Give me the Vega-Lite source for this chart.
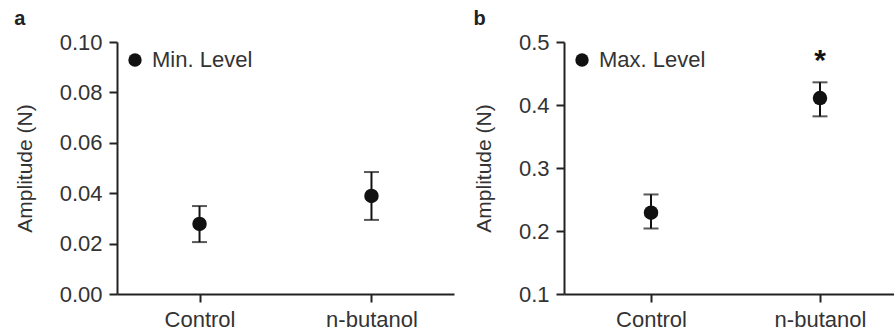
{
  "$schema": "https://vega.github.io/schema/vega-lite/v6.json",
  "padding": {"left": 14, "top": 9, "right": 0, "bottom": 0},
  "background": "white",
  "datasets": {
    "a": [
      {"group": "Control", "mean": 0.0278, "lo": 0.0206, "hi": 0.0349, "series": "Min. Level"},
      {"group": "n-butanol", "mean": 0.0389, "lo": 0.0294, "hi": 0.0484, "series": "Min. Level"}
    ],
    "b": [
      {"group": "Control", "mean": 0.229, "lo": 0.204, "hi": 0.258, "series": "Max. Level", "mark": ""},
      {"group": "n-butanol", "mean": 0.411, "lo": 0.382, "hi": 0.436, "series": "Max. Level", "mark": "*", "star": 0.479}
    ]
  },
  "hconcat": [
    {
      "width": 337,
      "height": 252,
      "title": {"text": "a", "anchor": "start", "frame": "bounds", "fontSize": 20, "fontWeight": "bold", "font": "Liberation Sans", "color": "#222", "offset": 2},
      "data": {"name": "a"},
      "layer": [
        {
          "mark": {"type": "errorbar", "ticks": {"size": 15, "thickness": 2, "color": "#111"}, "rule": {"strokeWidth": 2, "color": "#111"}},
          "encoding": {
            "x": {"field": "group", "type": "nominal", "scale": {"type": "point", "padding": 0.48}, "axis": {"title": null, "labelAngle": 0}},
            "y": {"field": "lo", "type": "quantitative", "scale": {"domain": [0, 0.1]}, "axis": {"title": "Amplitude (N)", "values": [0, 0.02, 0.04, 0.06, 0.08, 0.1], "format": ".2f"}},
            "y2": {"field": "hi"}
          }
        },
        {
          "mark": {"type": "point", "filled": true, "shape": "circle", "size": 210, "opacity": 1},
          "encoding": {
            "x": {"field": "group", "type": "nominal"},
            "y": {"field": "mean", "type": "quantitative"},
            "color": {"field": "series", "type": "nominal", "scale": {"range": ["#111"]}, "legend": {"title": null, "orient": "top-left", "offset": 7, "padding": 0}}
          }
        }
      ]
    },
    {
      "width": 343,
      "height": 252,
      "title": {"text": "b", "anchor": "start", "frame": "bounds", "fontSize": 20, "fontWeight": "bold", "font": "Liberation Sans", "color": "#222", "offset": 2},
      "data": {"name": "b"},
      "layer": [
        {
          "mark": {"type": "errorbar", "ticks": {"size": 15, "thickness": 2, "color": "#111"}, "rule": {"strokeWidth": 2, "color": "#111"}},
          "encoding": {
            "x": {"field": "group", "type": "nominal", "scale": {"type": "point", "padding": 0.515}, "axis": {"title": null, "labelAngle": 0}},
            "y": {"field": "lo", "type": "quantitative", "scale": {"domain": [0.1, 0.5]}, "axis": {"title": "Amplitude (N)", "values": [0.1, 0.2, 0.3, 0.4, 0.5], "format": ".1f"}},
            "y2": {"field": "hi"}
          }
        },
        {
          "mark": {"type": "point", "filled": true, "shape": "circle", "size": 210, "opacity": 1},
          "encoding": {
            "x": {"field": "group", "type": "nominal"},
            "y": {"field": "mean", "type": "quantitative"},
            "color": {"field": "series", "type": "nominal", "scale": {"range": ["#111"]}, "legend": {"title": null, "orient": "top-left", "offset": 7, "padding": 0}}
          }
        },
        {
          "mark": {"type": "text", "fontSize": 30, "fontWeight": "bold", "font": "Liberation Sans", "color": "#111", "baseline": "middle", "dy": 6},
          "encoding": {
            "x": {"field": "group", "type": "nominal"},
            "y": {"field": "star", "type": "quantitative"},
            "text": {"field": "mark"}
          }
        }
      ],
      "resolve": {"scale": {"color": "independent"}}
    }
  ],
  "resolve": {"scale": {"y": "independent", "x": "independent", "color": "independent"}, "legend": {"color": "independent"}},
  "spacing": 19,
  "config": {
    "view": {"stroke": null},
    "axis": {
      "grid": false,
      "domainColor": "#222",
      "domainWidth": 2,
      "tickColor": "#222",
      "tickWidth": 2,
      "tickSize": 8,
      "labelFont": "Liberation Sans",
      "labelFontSize": 22,
      "labelColor": "#333",
      "labelPadding": 7,
      "titleFont": "Liberation Sans",
      "titleFontSize": 21,
      "titleFontWeight": "normal",
      "titleColor": "#333",
      "titlePadding": 24
    },
    "legend": {
      "labelFont": "Liberation Sans",
      "labelFontSize": 22,
      "labelColor": "#333",
      "symbolSize": 180,
      "symbolType": "circle",
      "symbolStrokeWidth": 0,
      "labelOffset": 6
    }
  }
}
